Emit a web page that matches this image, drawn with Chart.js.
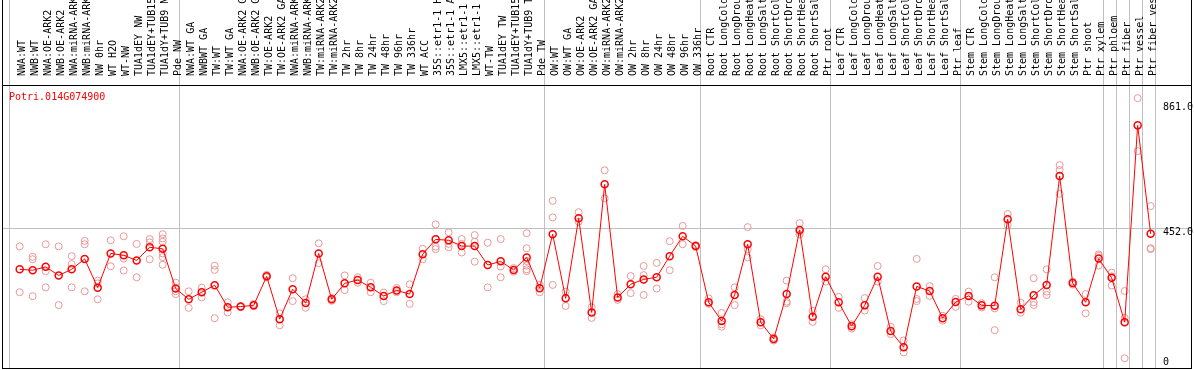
<!DOCTYPE html>
<html>
<head>
<meta charset="utf-8">
<script src="https://cdn.jsdelivr.net/npm/chart.js@4.4.1/dist/chart.umd.min.js"></script>
<style>
  html, body { margin: 0; padding: 0; background: #fff; }
  canvas { display: block; }
</style>
</head>
<body>
<canvas id="myChart" width="1194" height="370"></canvas>
<script>
// gen y muestras
var geneId = "Potri.014G074900";

var labels = [
  "NWA:WT", "NWB:WT", "NWA:OE-ARK2", "NWB:OE-ARK2", "NWA:miRNA-ARK2", "NWB:miRNA-ARK2",
  "NW 0hr", "WT H2O", "WT-NW", "TUA1dEY NW", "TUA1dEY+TUB15 NW", "TUA1dY+TUB9 NW", "Pde NW",
  "NWA:WT GA", "NWBWT GA", "TW:WT", "TW:WT GA", "NWA:OE-ARK2 GA", "NWB:OE-ARK2 GA",
  "TW:OE-ARK2", "TW:OE-ARK2 GA", "NWA:miRNA-ARK2 GA", "NWB:miRNA-ARK2 GA", "TW:miRNA-ARK2",
  "TW:miRNA-ARK2 GA", "TW 2hr", "TW 8hr", "TW 24hr", "TW 48hr", "TW 96hr", "TW 336hr",
  "WT ACC", "35S::etr1-1 H2O", "35S::etr1-1 ACC", "LMX5::etr1-1 H2O", "LMX5::etr1-1 ACC",
  "WT-TW", "TUA1dEY TW", "TUA1dEY+TUB15 TW", "TUA1dY+TUB9 TW", "Pde TW",
  "OW:WT", "OW:WT GA", "OW:OE-ARK2", "OW:OE-ARK2 GA", "OW:miRNA-ARK2", "OW:miRNA-ARK2 GA",
  "OW 2hr", "OW 8hr", "OW 24hr", "OW 48hr", "OW 96hr", "OW 336hr",
  "Root CTR", "Root LongCold", "Root LongDrought", "Root LongHeat", "Root LongSalt",
  "Root ShortCold", "Root ShortDrought", "Root ShortHeat", "Root ShortSalt", "Ptr root",
  "Leaf CTR", "Leaf LongCold", "Leaf LongDrought", "Leaf LongHeat", "Leaf LongSalt",
  "Leaf ShortCold", "Leaf ShortDrought", "Leaf ShortHeat", "Leaf ShortSalt", "Ptr leaf",
  "Stem CTR", "Stem LongCold", "Stem LongDrought", "Stem LongHeat", "Stem LongSalt",
  "Stem ShortCold", "Stem ShortDrought", "Stem ShortHeat", "Stem ShortSalt", "Ptr shoot",
  "Ptr xylem", "Ptr phloem", "Ptr fiber", "Ptr vessel", "Ptr fiber vessel"
];

// media de cada muestra
var means = [
  318, 315, 326, 298, 318, 352, 258, 370, 364, 347, 390, 385, 255,
  220, 243, 266, 194, 196, 200, 295, 155, 253, 208, 370, 220, 272, 283, 259, 231, 249, 237,
  367, 416, 413, 394, 394, 332, 344, 316, 357, 256,
  433, 223, 485, 177, 596, 226, 269, 285, 292, 361, 426, 394,
  210, 149, 234, 400, 145, 90, 237, 447, 163, 294,
  210, 132, 200, 294, 116, 63, 262, 247, 158, 211,
  231, 200, 199, 482, 187, 233, 267, 623, 273, 210, 353,
  290, 145, 789, 434
];

// replicas
var reps = [
  [393, 243], [359, 351, 230], [400, 312, 259], [393, 201], [361, 335, 259], [411, 400, 246],
  [281, 272, 220], [413, 328], [426, 353, 314], [401, 292], [417, 406, 351],
  [433, 419, 408, 370, 358, 333], [274, 246, 237],
  [246, 192], [258, 226], [330, 316, 158], [210, 177], [197, 194], [205, 198], [300, 292],
  [174, 135], [289, 214], [220, 192], [403, 338], [224, 215], [298, 250], [292, 274],
  [274, 243], [242, 214], [257, 243], [269, 205], [385, 351], [465, 392, 384],
  [439, 401, 390], [417, 401, 373], [430, 408, 343], [405, 259], [417, 327, 292], [322, 310],
  [436, 387, 345, 330, 318, 312], [267, 243],
  [542, 488, 267], [245, 198], [505, 474], [194, 159], [642, 550], [237, 218], [296, 240],
  [329, 299, 234], [339, 255], [410, 315], [460, 400], [397, 391],
  [223, 205], [175, 138, 130], [259, 201], [456, 384, 357], [155, 135], [95, 85],
  [281, 212, 207], [469, 441, 432], [182, 146], [318, 278],
  [228, 192], [138, 124], [224, 183], [329, 278], [130, 106], [85, 46], [352, 221, 214],
  [263, 231], [166, 150], [221, 195],
  [245, 212], [207, 193], [292, 190, 119], [499, 463], [209, 176], [289, 210, 201],
  [318, 245, 234], [659, 643, 565], [278, 268], [237, 174], [367, 362, 330],
  [307, 295, 265], [247, 159, 27], [878, 705], [525, 387, 384]
];

var yTicks = [0, 452, 861];
var yTickLabels = ["0", "452.0", "861.0"];
// separadores de grupos (en unidades de muestra)
var groupEdges = [-0.75, 12.33, 40.35, 52.35, 62.35, 72.38, 83.35, 84.38, 85.4, 86.38, 87.38];

var monoFont = "DejaVu Sans Mono";
var gris = "#c0c0c0";

var meanPts = means.map(function(v, i) { return {x: i, y: v}; });
var repPts = [];
reps.forEach(function(r, i) {
  r.forEach(function(v) { repPts.push({x: i, y: v}); });
});

function sinPadding(s) { //quita el relleno extra que pide cada eje
  s.paddingLeft = 0; s.paddingRight = 0; s.paddingTop = 0; s.paddingBottom = 0;
}

var marco = { // borde negro y nombre del gen
  id: "marco",
  afterDraw: function(chart) {
    var ctx = chart.ctx, ca = chart.chartArea;
    ctx.save();
    ctx.fillStyle = "#000";
    ctx.fillRect(ca.left, 0, 1, ca.bottom);
    ctx.fillRect(ca.right - 1, 0, 1, ca.bottom);
    ctx.fillRect(ca.left, ca.top, ca.right - ca.left, 1);
    ctx.fillRect(ca.left, ca.bottom - 1, ca.right - ca.left, 1);
    ctx.fillStyle = "#ff0000";
    ctx.font = "10px '" + monoFont + "'";
    ctx.textBaseline = "middle";
    ctx.textAlign = "left";
    ctx.fillText(geneId, ca.left + 7, ca.top + 12);
    ctx.restore();
  }
};

var ctx = document.getElementById("myChart").getContext("2d");
var myChart = new Chart(ctx, {
  type: "line",
  data: {
    datasets: [{
      label: "mean",
      data: meanPts,
      borderColor: "#ff0000",
      borderWidth: 1,
      pointRadius: 3.5,
      pointBorderWidth: 1.5,
      pointBorderColor: "#ff0000",
      pointBackgroundColor: "rgba(0,0,0,0)",
      tension: 0
    }, {
      label: "reps",
      data: repPts,
      showLine: false,
      pointRadius: 3.5,
      pointBorderWidth: 1,
      pointBorderColor: "#e89898",
      pointBackgroundColor: "rgba(0,0,0,0)"
    }]
  },
  options: {
    responsive: false,
    animation: false,
    devicePixelRatio: 1,
    layout: { autoPadding: false, padding: { left: 2, right: 2, top: 0, bottom: 1 } },
    plugins: { legend: { display: false }, tooltip: { enabled: false } },
    scales: {
      x: {
        type: "linear",
        position: "top",
        weight: 1,
        min: -1.36,
        max: 90.18,
        grid: { display: false },
        border: { display: false },
        afterBuildTicks: function(s) { s.ticks = labels.map(function(_, i) { return {value: i}; }); },
        afterFit: function(s) { s.height = 85; sinPadding(s); },
        ticks: {
          autoSkip: false,
          minRotation: 90,
          maxRotation: 90,
          padding: 1,
          labelOffset: 15,
          color: "#000",
          font: { family: monoFont, size: 10, lineHeight: 1.2 },
          callback: function(v) { return labels[v]; }
        }
      },
      xb: {
        type: "linear",
        position: "top",
        weight: 0,
        min: -1.36,
        max: 90.18,
        border: { display: false },
        grid: { color: gris, lineWidth: 1, drawTicks: true, tickLength: 85 },
        afterBuildTicks: function(s) { s.ticks = groupEdges.map(function(v) { return {value: v}; }); },
        afterFit: function(s) { s.height = 0; sinPadding(s); },
        ticks: { display: false }
      },
      y: {
        type: "linear",
        position: "right",
        min: -8.2,
        max: 921.1,
        border: { display: false },
        grid: {
          drawTicks: false,
          color: function(c) { return c.tick && c.tick.value === 452 ? gris : "rgba(0,0,0,0)"; }
        },
        afterBuildTicks: function(s) { s.ticks = yTicks.map(function(v) { return {value: v}; }); },
        afterFit: function(s) { s.width = 0; sinPadding(s); },
        ticks: {
          mirror: true,
          crossAlign: "far",
          padding: 1,
          color: "#000",
          font: { family: monoFont, size: 10, lineHeight: 0.9 },
          callback: function(v, i) {
            return i === 0 ? [yTickLabels[i], ""] : ["", yTickLabels[i]];
          }
        }
      }
    }
  },
  plugins: [marco]
});
</script>
</body>
</html>
